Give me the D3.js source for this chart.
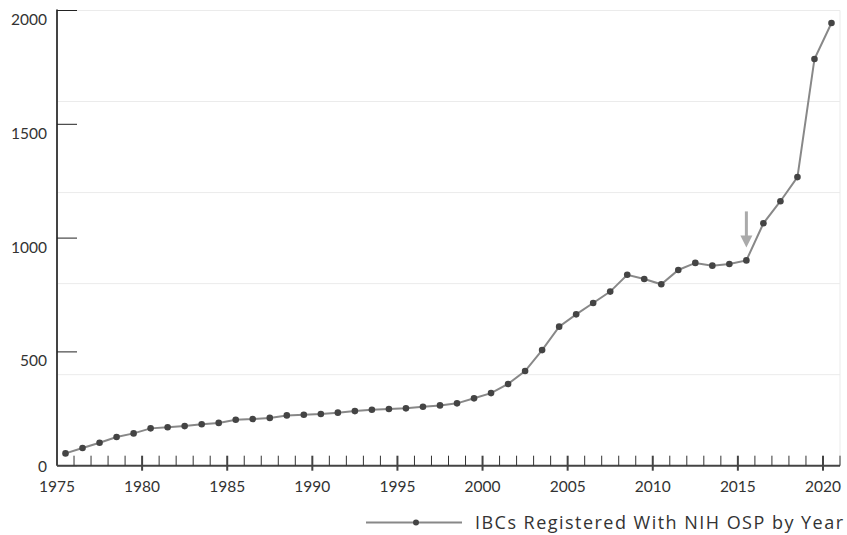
<!DOCTYPE html>
<html>
<head>
<meta charset="utf-8">
<script src="https://cdn.jsdelivr.net/npm/d3@7"></script>
<style>
  body { margin: 0; background: #fff; }
  svg text { font-family: Lato, "Open Sans", sans-serif; fill: #333; }
  svg text.legend { font-family: "Open Sans", sans-serif; }
</style>
</head>
<body>
<svg id="chart" width="847" height="535"></svg>
<script>
// data
const years = d3.range(1975, 2021);
const ibcs = [54, 78, 101, 126, 142, 164, 169, 174, 182, 188,
              202, 205, 210, 221, 224, 227, 233, 240, 246, 249,
              252, 259, 265, 274, 296, 319, 359, 416, 508, 611,
              665, 715, 765, 839, 820, 797, 860, 891, 879, 886,
              902, 1065, 1162, 1268, 1787, 1945];
const yTicks = [0, 500, 1000, 1500, 2000];
const gridVals = [400, 800, 1200, 1600, 2000];
const xLabels = [1975, 1980, 1985, 1990, 1995, 2000, 2005, 2010, 2015, 2020];
const arrowYear = 2015;
const legendLabel = "IBCs Registered With NIH OSP by Year";

const svg = d3.select("#chart");
const mLeft = 57, mRight = 840, mTop = 10.5, mBottom = 465.7;

const x = d3.scaleLinear().domain([1975, 2021]).range([mLeft, mRight]);
const y = d3.scaleLinear().domain([0, 2000]).range([mBottom, mTop]);
const cx = d => x(d + 0.5);

// grid
svg.append("g").selectAll("line").data(gridVals).enter().append("line")
    .attr("x1", mLeft).attr("x2", mRight)
    .attr("y1", d => y(d)).attr("y2", d => y(d))
    .attr("stroke", "#ebebeb").attr("stroke-width", 1);
svg.append("line")
    .attr("x1", mRight).attr("x2", mRight)
    .attr("y1", y(2000)).attr("y2", y(0))
    .attr("stroke", "#ebebeb");

// y axis
let yAxis = svg.append("g");
yAxis.append("line")
    .attr("x1", mLeft).attr("x2", mLeft).attr("y1", mTop - 1).attr("y2", mBottom)
    .attr("stroke", "#444").attr("stroke-width", 2);
yAxis.selectAll(".yt").data(yTicks).enter().append("line")
    .attr("x1", mLeft).attr("x2", mLeft + 20)
    .attr("y1", d => y(d)).attr("y2", d => y(d))
    .attr("stroke", "#222").attr("stroke-width", 1);
yAxis.selectAll("text").data(yTicks).enter().append("text")
    .attr("x", 47).attr("y", d => y(d) + (d == 0 ? 6 : 14.5))
    .attr("text-anchor", "end").attr("font-size", "15.5px")
    .text(d => d);

// x axis
let xAxis = svg.append("g");
xAxis.append("line")
    .attr("x1", mLeft).attr("x2", mRight).attr("y1", mBottom).attr("y2", mBottom)
    .attr("stroke", "#444").attr("stroke-width", 2);
xAxis.selectAll(".minor").data(d3.range(1976, 2022).filter(d => d % 5 != 0)).enter().append("line")
    .attr("x1", d => x(d)).attr("x2", d => x(d))
    .attr("y1", mBottom - 10).attr("y2", mBottom)
    .attr("stroke", "#333").attr("stroke-width", 1);
xAxis.selectAll(".major").data(xLabels.slice(1)).enter().append("line")
    .attr("x1", d => x(d)).attr("x2", d => x(d))
    .attr("y1", mBottom - 10).attr("y2", mBottom + 5)
    .attr("stroke", "#444").attr("stroke-width", 2);
xAxis.selectAll("text").data(xLabels).enter().append("text")
    .attr("x", d => x(d)).attr("y", 492)
    .attr("text-anchor", "middle").attr("font-size", "15.5px")
    .text(d => d);

// line + points
const line = d3.line().x((d, i) => cx(years[i])).y(d => y(d));
svg.append("path").datum(ibcs)
    .attr("d", line)
    .attr("fill", "none").attr("stroke", "#888").attr("stroke-width", 2);
svg.append("g").selectAll("circle").data(ibcs).enter().append("circle")
    .attr("cx", (d, i) => cx(years[i])).attr("cy", d => y(d))
    .attr("r", 3.3).attr("fill", "#444");

// arrow pointing to 2015
const ax = cx(arrowYear), ay = y(ibcs[years.indexOf(arrowYear)]);
svg.append("line")
    .attr("x1", ax).attr("x2", ax).attr("y1", ay - 49).attr("y2", ay - 24)
    .attr("stroke", "#aaa").attr("stroke-width", 3);
svg.append("path")
    .attr("d", `M${ax - 6},${ay - 25} L${ax + 6},${ay - 25} L${ax},${ay - 13} Z`)
    .attr("fill", "#aaa");

// legend
let lg = svg.append("g");
lg.append("line").attr("x1", 366).attr("x2", 462).attr("y1", 522.5).attr("y2", 522.5)
    .attr("stroke", "#888").attr("stroke-width", 2);
lg.append("circle").attr("cx", 416).attr("cy", 522.5).attr("r", 3).attr("fill", "#444");
lg.append("text").attr("class", "legend")
    .attr("x", 475).attr("y", 529).attr("font-size", "18px")
    .attr("textLength", 368).attr("lengthAdjust", "spacing")
    .text(legendLabel);
</script>
</body>
</html>
